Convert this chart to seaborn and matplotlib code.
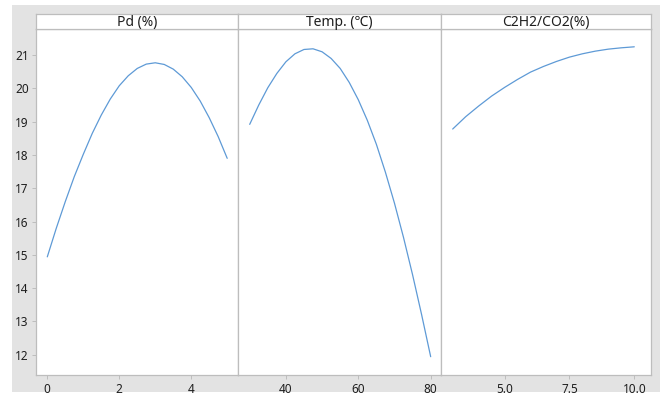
import matplotlib
matplotlib.use("Agg")
import matplotlib.pyplot as plt
import seaborn as sns
import pandas as pd
from matplotlib.patches import Rectangle

# ---- data ----
titles = ["Pd (%)", "Temp. (\u2103)", "C2H2/CO2(%)"]

pd_level = [0, 0.25, 0.5, 0.75, 1, 1.25, 1.5, 1.75, 2, 2.25, 2.5,
            2.75, 3, 3.25, 3.5, 3.75, 4, 4.25, 4.5, 4.75, 5]
pd_mean = [14.94, 15.80, 16.60, 17.35, 18.02, 18.65, 19.20, 19.68, 20.08, 20.38, 20.60,
           20.73, 20.77, 20.72, 20.58, 20.35, 20.03, 19.62, 19.12, 18.55, 17.90]

temp_level = [30, 32.5, 35, 37.5, 40, 42.5, 45, 47.5, 50, 52.5, 55,
              57.5, 60, 62.5, 65, 67.5, 70, 72.5, 75, 77.5, 80]
temp_mean = [18.92, 19.50, 20.02, 20.45, 20.80, 21.04, 21.17, 21.19, 21.10, 20.90, 20.60,
             20.18, 19.66, 19.04, 18.32, 17.48, 16.55, 15.52, 14.40, 13.20, 11.94]

gas_level = [3, 3.5, 4, 4.5, 5, 5.5, 6, 6.5, 7, 7.5, 8, 8.5, 9, 9.5, 10]
gas_mean = [18.78, 19.15, 19.47, 19.77, 20.03, 20.27, 20.49, 20.66,
            20.81, 20.94, 21.04, 21.12, 21.18, 21.22, 21.25]

x_ticks = [[0, 2, 4], [40, 60, 80], [5.0, 7.5, 10.0]]
x_ticklabels = [["0", "2", "4"], ["40", "60", "80"], ["5.0", "7.5", "10.0"]]
y_ticks = [12, 13, 14, 15, 16, 17, 18, 19, 20, 21]

df = pd.concat([
    pd.DataFrame({"factor": titles[0], "level": pd_level, "mean": pd_mean}),
    pd.DataFrame({"factor": titles[1], "level": temp_level, "mean": temp_mean}),
    pd.DataFrame({"factor": titles[2], "level": gas_level, "mean": gas_mean}),
], ignore_index=True)

sns.set_theme(style="white")
plt.rcParams['font.family'] = ['Noto Sans', 'DejaVu Sans']

LINE = "#5E9AD6"
SPINE = "#BDBDBD"
BG = "#E3E3E3"
TXT = "#1E1E1E"

g = sns.FacetGrid(df, col="factor", col_order=titles, sharex=False, sharey=True)
g.map_dataframe(sns.lineplot, x="level", y="mean", color=LINE, linewidth=0.9)

fig = g.figure
fig.set_size_inches(6.66, 3.95)
fig.set_dpi(100)
W, H = 666.0, 395.0

def fx(px):
    return px / W

def fy(py):
    return 1 - py / H

fig.patch.set_facecolor("white")
fig.add_artist(Rectangle((fx(12), fy(392)), fx(660) - fx(12), (392 - 5) / H,
                         transform=fig.transFigure, facecolor=BG,
                         edgecolor="none", zorder=-10))

edges = [35.6, 238, 441, 651]
top, bottom, strip_top = 29, 375, 14
xlims = [(-0.325, 5.30), (26.77, 82.85), (2.549, 10.644)]

for i, ax in enumerate(g.axes.flat):
    x0, x1 = edges[i], edges[i + 1]
    ax.set_position([fx(x0), fy(bottom), fx(x1) - fx(x0), (bottom - top) / H])
    ax.set_facecolor("white")
    ax.set_xlim(*xlims[i])
    ax.set_ylim(11.39, 21.785)
    ax.set_xticks(x_ticks[i])
    ax.set_xticklabels(x_ticklabels[i])
    ax.set_xlabel("")
    ax.set_ylabel("")
    ax.set_title("")
    for s in ax.spines.values():
        s.set_visible(True)
        s.set_color(SPINE)
        s.set_linewidth(0.9)
    ax.tick_params(axis="x", bottom=True, length=3, width=0.7, color=SPINE,
                   labelsize=8.5, labelcolor=TXT, pad=3)
    if i == 0:
        ax.set_yticks(y_ticks)
        ax.tick_params(axis="y", left=True, length=3, width=0.7, color=SPINE,
                       labelsize=8.5, labelcolor=TXT, pad=2)
    else:
        ax.tick_params(axis="y", left=False, labelleft=False)

    sax = fig.add_axes([fx(x0), fy(top), fx(x1) - fx(x0), (top - strip_top) / H])
    sax.set_facecolor("white")
    sax.set_xticks([])
    sax.set_yticks([])
    for s in sax.spines.values():
        s.set_visible(True)
        s.set_color(SPINE)
        s.set_linewidth(0.9)
    sax.text(0.5, 0.45, titles[i], transform=sax.transAxes, ha="center",
             va="center", fontsize=10, color=TXT)

fig.savefig("out.png", dpi=100)
